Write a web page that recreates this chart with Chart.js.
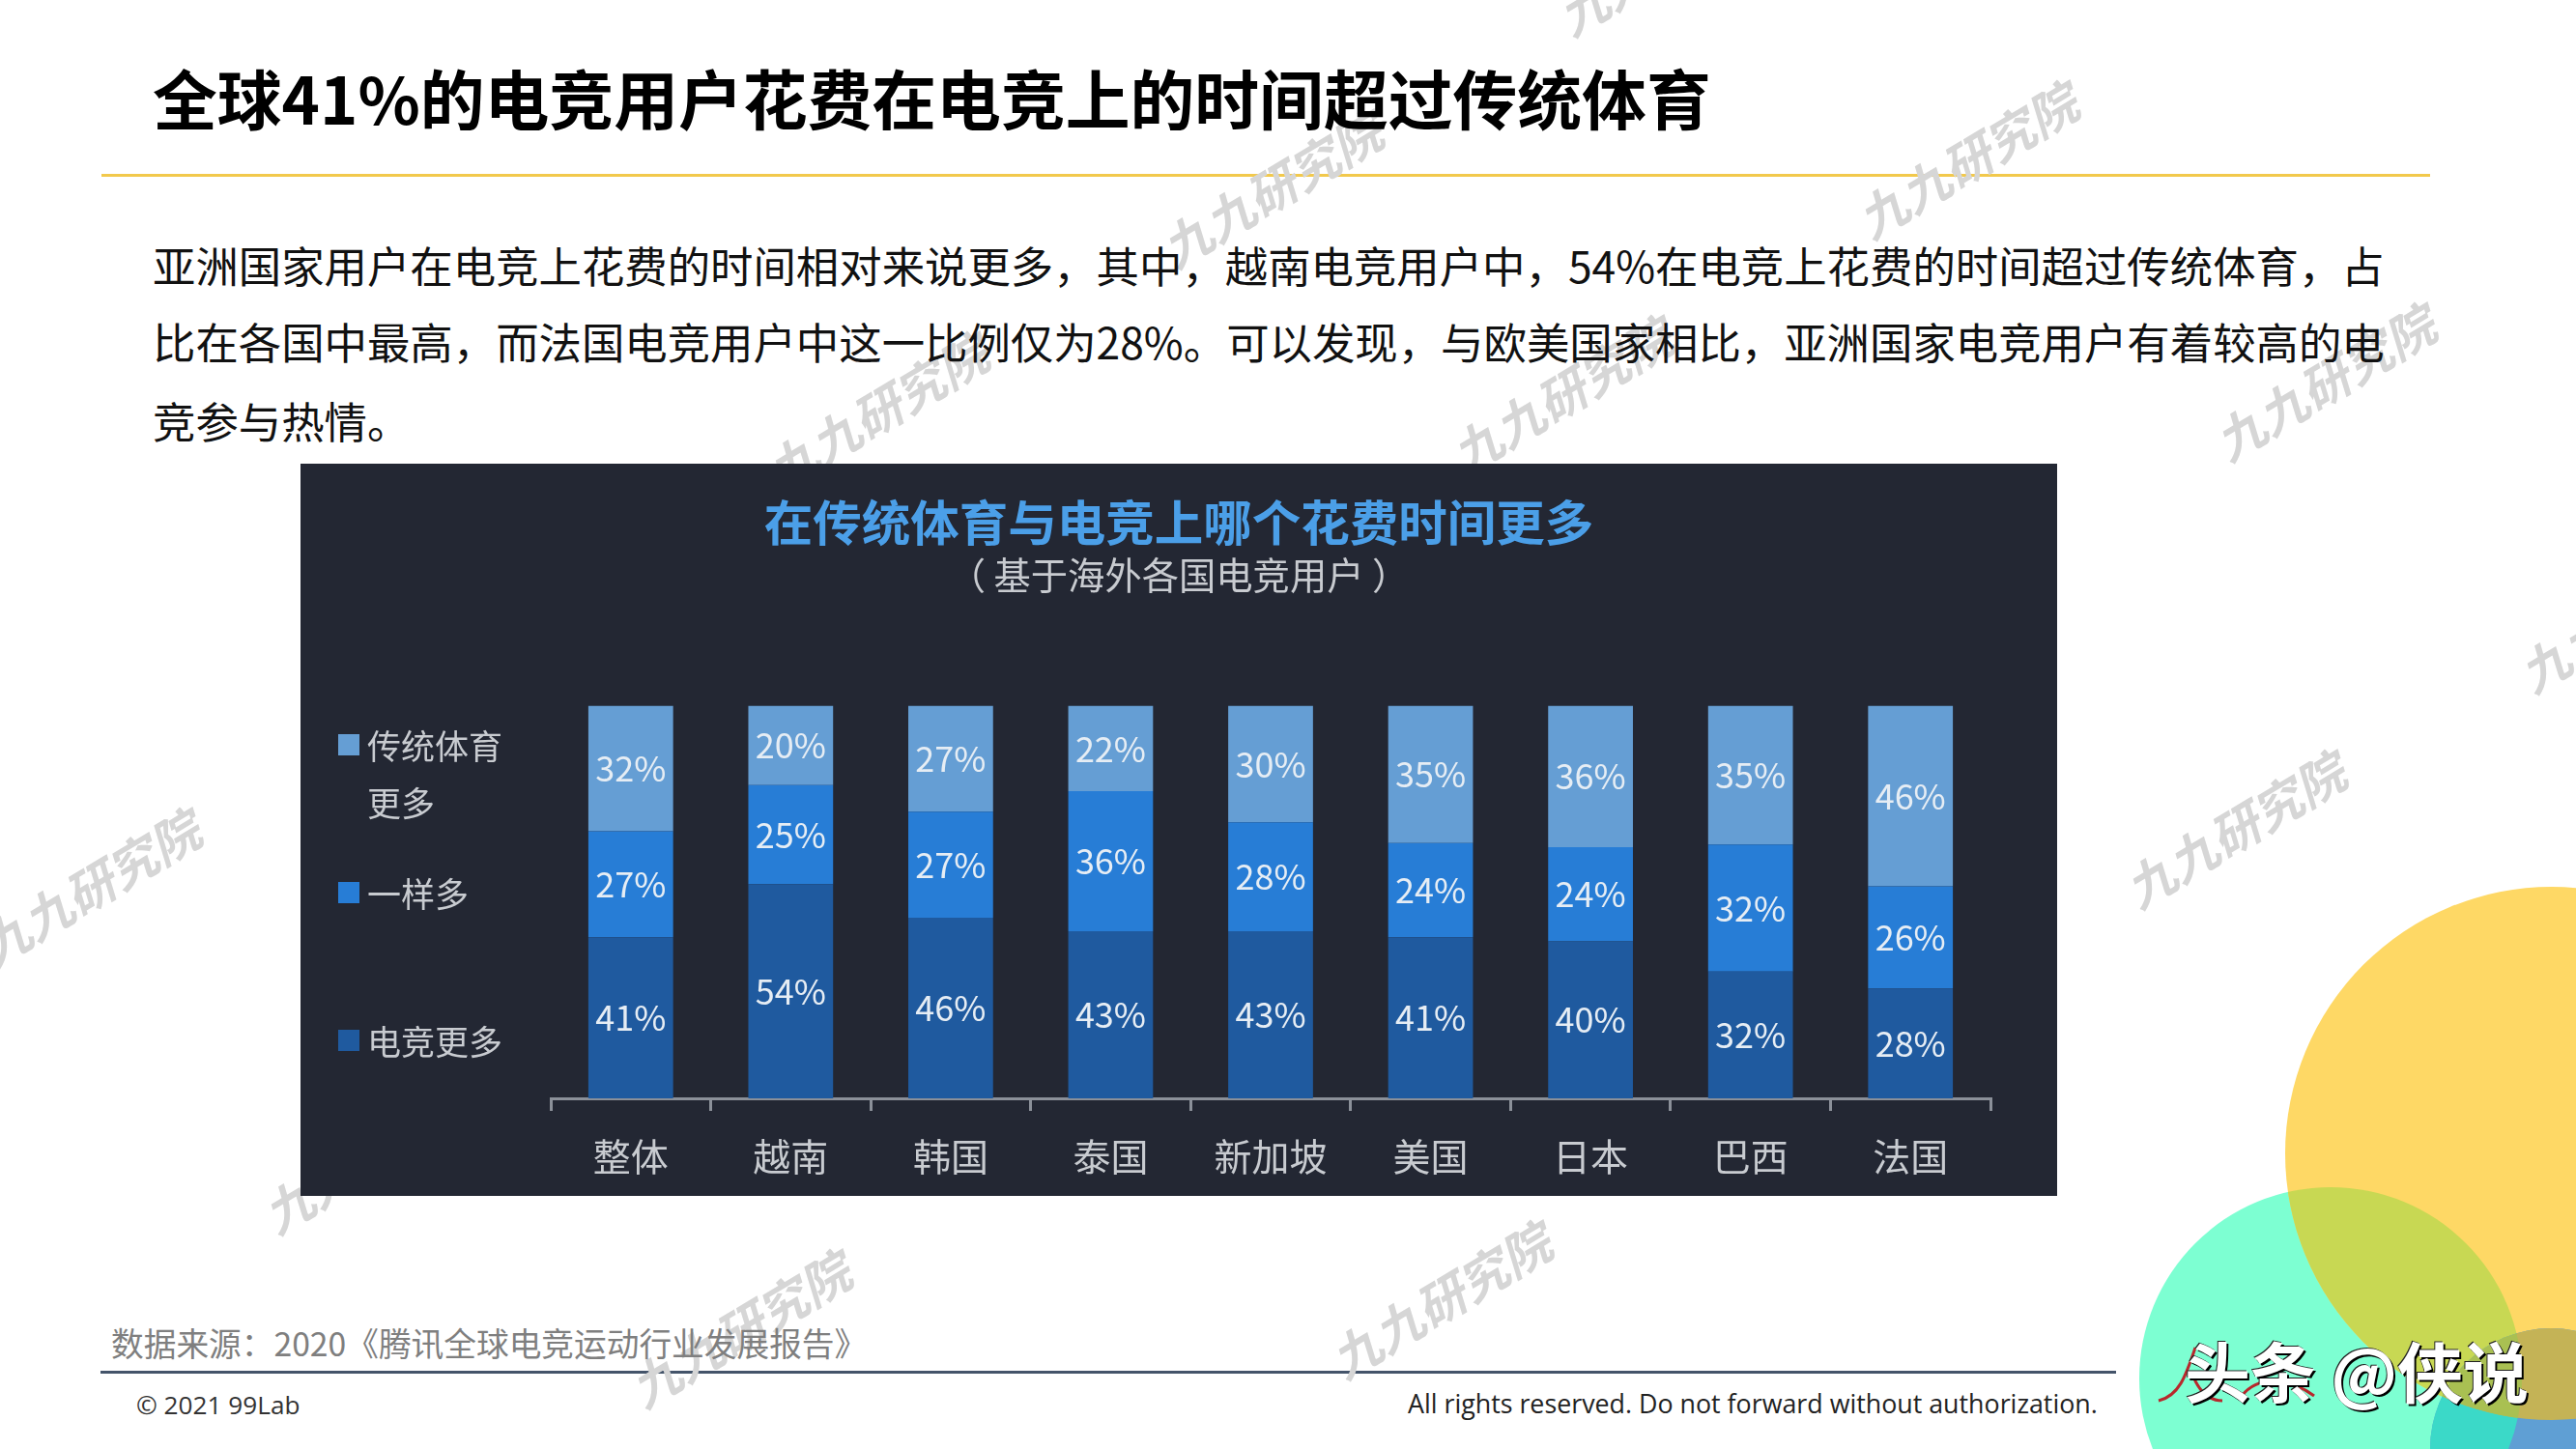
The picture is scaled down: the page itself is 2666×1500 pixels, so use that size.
<!DOCTYPE html>
<html lang="zh-CN"><head><meta charset="utf-8">
<script src="https://cdn.jsdelivr.net/npm/chart.js@4/dist/chart.umd.min.js"></script>
<style>
html,body{margin:0;padding:0;background:#fff;width:2666px;height:1500px;overflow:hidden}
body{position:relative;font-family:"Noto Sans CJK SC",sans-serif}
.t{position:absolute;white-space:nowrap;line-height:1;z-index:2}
.wm{position:absolute;white-space:nowrap;line-height:1;color:#d6d6d6;font-size:51px;font-weight:700;font-style:italic;transform:translate(-50%,-50%) rotate(-31deg);z-index:1}
#deco{position:absolute;left:0;top:0;z-index:0}
#panel{position:absolute;left:311px;top:480px;width:1818px;height:758px;background:#232733;z-index:2}
#panel canvas{position:absolute;left:0;top:0}
.lg{position:absolute;color:#c8cbd0;font-size:35px;line-height:59px;white-space:pre;left:69px}
.sq{position:absolute;left:39px;width:22px;height:22px}
.rule{position:absolute;z-index:0}
</style></head><body>
<svg id="deco" width="2666" height="1500" viewBox="0 0 2666 1500">
<defs>
<clipPath id="cT"><circle cx="2412" cy="1427" r="198"/></clipPath>
<clipPath id="cY"><circle cx="2641" cy="1194" r="276"/></clipPath>
<clipPath id="cS"><circle cx="2640" cy="1500" r="125"/></clipPath>
</defs>
<circle cx="2412" cy="1427" r="198" fill="#7dffd2"/>
<circle cx="2641" cy="1194" r="276" fill="#fed865"/>
<g clip-path="url(#cT)"><circle cx="2641" cy="1194" r="276" fill="#c8d853"/></g>
<circle cx="2640" cy="1500" r="125" fill="#5f9fd4"/>
<g clip-path="url(#cS)"><circle cx="2412" cy="1427" r="198" fill="#3bd9c8"/><circle cx="2641" cy="1194" r="276" fill="#c4b356"/>
<g clip-path="url(#cT)"><circle cx="2641" cy="1194" r="276" fill="#a9c052"/></g></g>
<path d="M2234 1450 C2255 1445 2262 1425 2272 1395 M2268 1420 C2275 1440 2285 1450 2300 1450 M2320 1445 C2340 1420 2375 1430 2395 1445" fill="none" stroke="#b8282c" stroke-width="3"/>
</svg>

<div class="t" id="title" style="left:158px;top:67px;font-size:66.8px;font-weight:700;color:#000">全球41%的电竞用户花费在电竞上的时间超过传统体育</div>
<div class="rule" style="left:105px;top:180px;width:2410px;height:3px;background:#f2c94c"></div>
<div class="t" style="left:158px;top:252px;font-size:44.4px;color:#111">亚洲国家用户在电竞上花费的时间相对来说更多，其中，越南电竞用户中，54%在电竞上花费的时间超过传统体育，占</div>
<div class="t" style="left:158px;top:331px;font-size:44.4px;color:#111">比在各国中最高，而法国电竞用户中这一比例仅为28%。可以发现，与欧美国家相比，亚洲国家电竞用户有着较高的电</div>
<div class="t" style="left:158px;top:413px;font-size:44.4px;color:#111">竞参与热情。</div>

<div id="panel"><canvas id="c" width="1818" height="758"></canvas></div>

<div class="t" style="left:115px;top:1373px;font-size:33.7px;color:#7f7f7f">数据来源：2020《腾讯全球电竞运动行业发展报告》</div>
<div class="rule" style="left:104px;top:1419px;width:2086px;height:3px;background:#44546a"></div>
<div class="t" style="left:141px;top:1441px;font-size:26.2px;color:#333;font-family:'Open Sans',sans-serif">© 2021 99Lab</div>
<div class="t" style="left:1457px;top:1440px;font-size:26.8px;color:#222;font-family:'Open Sans',sans-serif">All rights reserved. Do not forward without authorization.</div>

<div class="t" style="left:2261px;top:1384px;font-size:68px;font-weight:700;color:#fff;z-index:3;text-shadow:2px 2px 0 #000,-1px -1px 0 #222">头条 @侠说</div>

<script>
const categories = ['整体','越南','韩国','泰国','新加坡','美国','日本','巴西','法国'];
const esportsMore = [41,54,46,43,43,41,40,32,28];
const equalTime   = [27,25,27,36,28,24,24,32,26];
const sportsMore  = [32,20,27,22,30,35,36,35,46];
const seriesNames = ['电竞更多','一样多','传统体育\n更多'];
const seriesColors = ['#1f5a9f','#277dd6','#659ed4'];
const chartTitle = '在传统体育与电竞上哪个花费时间更多';
const chartSubtitle = '（ 基于海外各国电竞用户 ）';
const watermarkText = '九九研究院';
const watermarkSpots = [[1315,195],[2035,165],[907,425],[1615,408],[2405,395],[92,918],[2312,858],[765,1375],[1490,1345],[1725,-45],[2720,635],[385,1195]];

/* the source is a 100% stacked bar: every column is full height even when rounded labels add to 99 or 101 */
const rawSeries = [esportsMore, equalTime, sportsMore];
const totals = categories.map((_, i) => rawSeries.reduce((s, a) => s + a[i], 0));

const barLabels = {
  id:'barLabels',
  afterDatasetsDraw(chart){
    const ctx = chart.ctx;
    ctx.save();
    ctx.font = '36px "Noto Sans CJK SC"';
    ctx.fillStyle = '#e6edf4';
    ctx.textAlign = 'center';
    ctx.textBaseline = 'middle';
    chart.data.datasets.forEach((ds, d) => {
      chart.getDatasetMeta(d).data.forEach((el, i) => {
        ctx.fillText(rawSeries[d][i] + '%', el.x, (el.y + el.base) / 2);
      });
    });
    ctx.restore();
  }
};

new Chart(document.getElementById('c'), {
  type:'bar',
  plugins:[barLabels],
  data:{
    labels:categories,
    datasets:rawSeries.map((vals, d) => ({
      label:seriesNames[d].replace('\n',''),
      data:vals.map((v, i) => v / totals[i] * 100),
      backgroundColor:seriesColors[d],
      borderWidth:0,
      barPercentage:0.53,
      categoryPercentage:1
    }))
  },
  options:{
    responsive:false,
    devicePixelRatio:1,
    animation:false,
    layout:{padding:{left:69,right:69,top:31,bottom:0}},
    plugins:{
      legend:{display:false},
      tooltip:{enabled:false},
      title:{display:true,text:chartTitle,color:'#4b9fe8',font:{family:'"Noto Sans CJK SC"',size:50.5,weight:'700',lineHeight:1.2},padding:{top:0,bottom:1}},
      subtitle:{display:true,text:chartSubtitle,color:'#c8cbd0',font:{family:'"Noto Sans CJK SC"',size:38.3,lineHeight:1.2},padding:{top:0,bottom:112}}
    },
    scales:{
      x:{
        stacked:true,
        offset:true,
        afterFit(s){ s.height = 101; },
        border:{color:'#8b9099',width:3},
        grid:{display:true,drawOnChartArea:false,drawTicks:true,tickLength:13,color:'#8b9099',lineWidth:3,offset:true},
        ticks:{color:'#c8cbd0',padding:24,maxRotation:0,autoSkip:false,font:{family:'"Noto Sans CJK SC"',size:39}}
      },
      y:{
        stacked:true,display:true,min:0,max:100,
        afterFit(s){ s.width = 190; },
        border:{display:false},
        grid:{display:false},
        ticks:{display:false}
      }
    }
  }
});

/* legend, built from the series lists */
const panel = document.getElementById('panel');
[[2,261,261],[1,414,414],[0,567,567]].forEach(([d,sqY,txtY]) => {
  const s = document.createElement('div');
  s.className='sq'; s.style.top=(sqY+19)+'px'; s.style.background=seriesColors[d];
  panel.appendChild(s);
  const t = document.createElement('div');
  t.className='lg'; t.style.top=txtY+'px'; t.textContent=seriesNames[d];
  panel.appendChild(t);
});
/* watermarks */
watermarkSpots.forEach(([x,y]) => {
  const w = document.createElement('div');
  w.className='wm'; w.textContent=watermarkText;
  w.style.left=x+'px'; w.style.top=y+'px';
  document.body.appendChild(w);
});
</script>
</body></html>
